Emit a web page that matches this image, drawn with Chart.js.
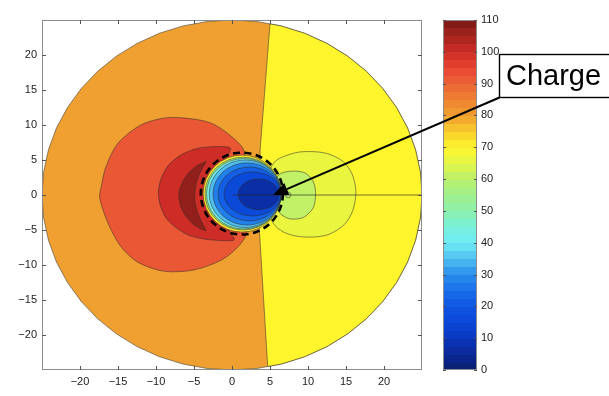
<!DOCTYPE html>
<html lang="en">
<head>
    <meta charset="utf-8" />
    <title>Contour - Charge</title>
    <script src="https://cdn.jsdelivr.net/npm/chart.js@4/dist/chart.umd.min.js"></script>
    <style>
      html, body { margin: 0; padding: 0; background: #fff; }
      #wrap { position: relative; width: 609px; height: 396px; }
    </style>
</head>
<body>
<div id="wrap"><canvas id="contour" width="609" height="396"></canvas></div>

<script>
    // --- axes ---
    const xTicks = [-20, -15, -10, -5, 0, 5, 10, 15, 20];
    const yTicks = [-20, -15, -10, -5, 0, 5, 10, 15, 20];
    const cbTicks = [0, 10, 20, 30, 40, 50, 60, 70, 80, 90, 100, 110];

    // --- colour map of the colour bar (value -> colour) ---
    const cmapLevels = [0, 5, 10, 15, 20, 25, 30, 35, 40, 45, 50, 55, 60, 65, 70, 75, 80, 85, 90, 95, 100, 105, 110];
    const cmapColors = ["#0a1e6e", "#0a2896", "#0a37be", "#0a46d7", "#0f55e1", "#196eeb", "#288ceb", "#50bef0",
                        "#6eebf5", "#78f0dc", "#8cf0aa", "#a0f08c", "#b9f06e", "#e1f546", "#fff52d", "#f8cd2d",
                        "#f0a030", "#f08232", "#eb6437", "#e84332", "#cd2d26", "#a5231e", "#781914"];

    // --- filled contour regions (outline in plot units, level = value) ---
    const diskLevel = 80;
    const disk = [[25,0],[24.79,3.26],[24.15,6.47],[23.1,9.57],[21.65,12.5],[19.83,15.22],[17.68,17.68],
                  [15.22,19.83],[12.5,21.65],[9.57,23.1],[6.47,24.15],[3.26,24.79],[0,25],
                  [-3.26,24.79],[-6.47,24.15],[-9.57,23.1],[-12.5,21.65],[-15.22,19.83],[-17.68,17.68],
                  [-19.83,15.22],[-21.65,12.5],[-23.1,9.57],[-24.15,6.47],[-24.79,3.26],[-25,0],
                  [-24.79,-3.26],[-24.15,-6.47],[-23.1,-9.57],[-21.65,-12.5],[-19.83,-15.22],[-17.68,-17.68],
                  [-15.22,-19.83],[-12.5,-21.65],[-9.57,-23.1],[-6.47,-24.15],[-3.26,-24.79],[0,-25],
                  [3.26,-24.79],[6.47,-24.15],[9.57,-23.1],[12.5,-21.65],[15.22,-19.83],[17.68,-17.68],
                  [19.83,-15.22],[21.65,-12.5],[23.1,-9.57],[24.15,-6.47],[24.79,-3.26],[25,0]];

    const rightLevel = 70;
    const rightHalf = [[5,24.44],[6.47,24.15],[9.57,23.1],[12.5,21.65],[15.22,19.83],[17.68,17.68],[19.83,15.22],
                       [21.65,12.5],[23.1,9.57],[24.15,6.47],[24.79,3.26],[25,0],[24.79,-3.26],[24.15,-6.47],
                       [23.1,-9.57],[21.65,-12.5],[19.83,-15.22],[17.68,-17.68],[15.22,-19.83],[12.5,-21.65],
                       [9.57,-23.1],[6.47,-24.15],[4.7,-24.5],[3.6,-5],[3.7,6.4],[5,24.44]];

    const lobeLevel = 66.5;
    const lobe = [[4,0],[5.5,4.6],[8.2,6.0],[10.5,6.2],[12.6,5.9],[14.6,4.8],[15.8,3.0],[16.3,0.5],[15.9,-2.2],
                  [14.8,-4.2],[12.8,-5.6],[10.8,-6.0],[8.6,-5.9],[6.8,-5.3],[5.4,-4],[4,0]];

    const lobeInnerLevel = 61;
    const lobeInner = [[5,0],[6.2,2.9],[7.8,3.4],[9.5,3.2],[10.6,2.1],[11,0.4],[10.7,-1.8],[9.4,-3.2],
                       [7.6,-3.4],[6.3,-2.6],[5,0]];

    const redLevel = 92;
    const red = [[1.5,0],[1.9,-5.4],[0.8,-7.4],[-1.4,-9.3],[-5,-10.7],[-8.9,-10.9],[-12.4,-9.6],[-14.6,-7.4],
                 [-16.2,-4.3],[-17.4,-0.5],[-17.2,1.2],[-16.6,4],[-15,7.4],[-12,10],[-8.9,11],[-6.3,11],
                 [-2.8,10.3],[0,8.3],[1.6,6.2],[1.5,0]];

    const darkRedLevel = 100;
    const darkRed = [[0,0],[-0.5,-4.8],[0.3,-6.4],[-1.5,-6.5],[-3.6,-6.3],[-5.6,-5.8],[-7.2,-4.8],[-8.6,-3.4],
                     [-9.4,-1.6],[-9.7,0.4],[-9.3,2.4],[-8.4,4.2],[-6.9,5.6],[-4.8,6.6],[-2.6,6.9],[-0.2,6.7],
                     [-1.0,4.5],[0,0]];

    const crescentLevel = 107;
    const crescent = [[-3.4,4.8],[-4.6,4.2],[-5.6,3.3],[-6.4,2.1],[-6.9,0.8],[-7,-0.4],[-6.7,-1.8],[-6.1,-3.0],
                      [-5.2,-4.1],[-4.2,-4.8],[-3.4,-5.1],[-4.1,-3.6],[-4.6,-2.3],[-4.9,-0.9],[-4.9,0.4],
                      [-4.7,1.7],[-4.3,3.0],[-3.4,4.8]];

    // --- core of the charge: nested closed contours [cx, cy, rx, ry] ---
    const coreLevels = [71, 55, 43, 35, 28, 22, 16, 7];
    const coreShapes = [[1.33,0.2,5.13,5.5],[1.45,0.2,5.0,5.2],[1.55,0.18,4.9,5.03],[1.73,0.18,4.73,4.83],
                        [1.98,0.15,4.48,4.45],[2.3,0.15,4.15,3.85],[2.7,0.15,3.75,3.15],[3.5,0.1,2.7,2.2]];
    const smallLoop = [7.4, 0, 0.35, 0.4];

    // dashed ring around the charge, mesh cut, arrow tip
    const chargeRing = [1.3, 0.2, 5.4, 5.85];
    const cutLine = [[0.1, 0], [25, 0]];
    const chargeTip = [5.4, 0];
    const chargeLabel = "Charge";

    // --- helpers ---
    function hexToRgb(h) {
        return [parseInt(h.slice(1,3),16), parseInt(h.slice(3,5),16), parseInt(h.slice(5,7),16)];
    }
    function levelColor(v) {
        let i = 0;
        while (i < cmapLevels.length - 2 && v > cmapLevels[i + 1]) i++;
        const t = Math.max(0, Math.min(1, (v - cmapLevels[i]) / (cmapLevels[i + 1] - cmapLevels[i])));
        const a = hexToRgb(cmapColors[i]), b = hexToRgb(cmapColors[i + 1]);
        return "rgb(" + a.map((c, k) => Math.round(c + (b[k] - c) * t)).join(",") + ")";
    }
    const edgeColor = "rgba(45,45,45,0.75)";
    const axisFont = { family: "'Liberation Sans', Arial, Helvetica, sans-serif", size: 11 };
    const fmt = v => (v < 0 ? "\u2212" + Math.abs(v) : String(v));

    let order = 0;
    function region(points, level, tension) {
        order--;
        return {
            data: points.map(p => ({ x: p[0], y: p[1] })),
            showLine: true,
            fill: "shape",
            backgroundColor: levelColor(level),
            borderColor: edgeColor,
            borderWidth: 0.7,
            pointRadius: 0,
            tension: tension,
            order: order
        };
    }

    // --- plugin: core contours, ring, frame, colour bar, label ---
    const contourExtras = {
        id: "contourExtras",
        afterDatasetsDraw(chart) {
            const { ctx, chartArea: a, scales: { x, y } } = chart;
            const ellipse = e => {
                const px = x.getPixelForValue(e[0]), py = y.getPixelForValue(e[1]);
                const rx = Math.abs(x.getPixelForValue(e[0] + e[2]) - px);
                const ry = Math.abs(y.getPixelForValue(e[1] + e[3]) - py);
                ctx.beginPath();
                ctx.ellipse(px, py, rx, ry, 0, 0, Math.PI * 2);
            };
            ctx.save();
            ctx.beginPath();
            ctx.rect(a.left, a.top, a.width, a.height);
            ctx.clip();

            ctx.lineWidth = 0.7;
            ctx.strokeStyle = edgeColor;
            coreLevels.forEach((lv, i) => {
                ellipse(coreShapes[i]);
                ctx.fillStyle = levelColor(lv);
                ctx.fill();
                ctx.stroke();
            });
            ellipse(smallLoop);
            ctx.fillStyle = levelColor(lobeInnerLevel);
            ctx.fill();
            ctx.stroke();

            // mesh cut
            ctx.beginPath();
            ctx.moveTo(x.getPixelForValue(cutLine[0][0]), y.getPixelForValue(cutLine[0][1]));
            ctx.lineTo(x.getPixelForValue(cutLine[1][0]), y.getPixelForValue(cutLine[1][1]));
            ctx.strokeStyle = "rgba(40,40,40,0.8)";
            ctx.lineWidth = 0.8;
            ctx.stroke();

            // dashed ring
            ellipse(chargeRing);
            ctx.setLineDash([7, 4.5]);
            ctx.lineWidth = 2.6;
            ctx.strokeStyle = "#000";
            ctx.stroke();
            ctx.restore();
        },
        afterDraw(chart) {
            const { ctx, chartArea: a, scales: { x, y, cb } } = chart;
            ctx.save();

            // frame + inward ticks
            ctx.strokeStyle = "#8c8c8c";
            ctx.lineWidth = 1;
            ctx.strokeRect(a.left + 0.5, a.top + 0.5, a.width - 1, a.height - 1);
            ctx.strokeStyle = "#555";
            ctx.beginPath();
            xTicks.forEach(v => {
                const px = Math.round(x.getPixelForValue(v)) + 0.5;
                ctx.moveTo(px, a.bottom); ctx.lineTo(px, a.bottom - 4);
                ctx.moveTo(px, a.top); ctx.lineTo(px, a.top + 4);
            });
            yTicks.forEach(v => {
                const py = Math.round(y.getPixelForValue(v)) + 0.5;
                ctx.moveTo(a.left, py); ctx.lineTo(a.left + 4, py);
                ctx.moveTo(a.right, py); ctx.lineTo(a.right - 4, py);
            });
            ctx.stroke();

            // colour bar
            const barL = cb.left + 21, barW = 34;
            for (let v = 0; v < 110; v += 2.5) {
                const p0 = cb.getPixelForValue(v), p1 = cb.getPixelForValue(v + 2.5);
                ctx.fillStyle = levelColor(v + 1.25);
                ctx.fillRect(barL, Math.floor(p1), barW, Math.ceil(p0) - Math.floor(p1));
            }
            const top = cb.getPixelForValue(110), bot = cb.getPixelForValue(0);
            ctx.strokeStyle = "#8c8c8c";
            ctx.strokeRect(barL + 0.5, top + 0.5, barW - 1, bot - top - 1);
            ctx.strokeStyle = "#555";
            ctx.beginPath();
            cbTicks.forEach(v => {
                const py = Math.round(cb.getPixelForValue(v)) + 0.5;
                ctx.moveTo(barL, py); ctx.lineTo(barL + 3, py);
                ctx.moveTo(barL + barW, py); ctx.lineTo(barL + barW - 3, py);
            });
            ctx.stroke();

            // label box + arrow to the charge
            const bx = 499.5, by = 54.5, bw = 130, bh = 43;
            ctx.fillStyle = "#fff";
            ctx.fillRect(bx, by, bw, bh);
            ctx.strokeStyle = "#000";
            ctx.lineWidth = 1.4;
            ctx.strokeRect(bx, by, bw, bh);
            ctx.fillStyle = "#000";
            ctx.font = "29px 'Liberation Sans', Arial, Helvetica, sans-serif";
            ctx.textBaseline = "alphabetic";
            ctx.fillText(chargeLabel, 506, 85);

            const tx = x.getPixelForValue(chargeTip[0]), ty = y.getPixelForValue(chargeTip[1]);
            const sx = bx, sy = by + bh;
            const ang = Math.atan2(ty - sy, tx - sx);
            const hl = 15, hw = 6.5;
            const baseX = tx - hl * Math.cos(ang), baseY = ty - hl * Math.sin(ang);
            ctx.lineWidth = 2;
            ctx.beginPath();
            ctx.moveTo(sx, sy);
            ctx.lineTo(baseX, baseY);
            ctx.stroke();
            ctx.beginPath();
            ctx.moveTo(tx, ty);
            ctx.lineTo(baseX + hw * Math.sin(ang), baseY - hw * Math.cos(ang));
            ctx.lineTo(baseX - hw * Math.sin(ang), baseY + hw * Math.cos(ang));
            ctx.closePath();
            ctx.fill();
            ctx.restore();
        }
    };

    // --- chart ---
    const datasets = [
        region(disk, diskLevel, 0),
        region(rightHalf, rightLevel, 0),
        region(lobe, lobeLevel, 0.3),
        region(lobeInner, lobeInnerLevel, 0.3),
        region(red, redLevel, 0.3),
        region(darkRed, darkRedLevel, 0.25),
        region(crescent, crescentLevel, 0)
    ];

    const ctx = document.getElementById("contour").getContext("2d");
    new Chart(ctx, {
        type: "scatter",
        data: { datasets: datasets },
        options: {
            responsive: false,
            animation: false,
            devicePixelRatio: 1,
            layout: { padding: { top: 20, left: 0, right: 0, bottom: 0 } },
            plugins: { legend: { display: false }, tooltip: { enabled: false } },
            scales: {
                x: {
                    type: "linear", position: "bottom", min: -25, max: 25,
                    grid: { display: false, drawTicks: false }, border: { display: false },
                    ticks: { padding: 5, font: axisFont, color: "#222", callback: fmt },
                    afterBuildTicks: s => { s.ticks = xTicks.map(v => ({ value: v })); },
                    afterFit: s => { s.height = 26; }
                },
                y: {
                    type: "linear", position: "left", min: -25, max: 25,
                    grid: { display: false, drawTicks: false }, border: { display: false },
                    ticks: { padding: 5, font: axisFont, color: "#222", callback: fmt },
                    afterBuildTicks: s => { s.ticks = yTicks.map(v => ({ value: v })); },
                    afterFit: s => { s.width = 42; }
                },
                cb: {
                    type: "linear", position: "right", min: 0, max: 110,
                    grid: { display: false, drawTicks: true, tickLength: 54 }, border: { display: false },
                    ticks: { padding: 5, font: axisFont, color: "#222" },
                    afterBuildTicks: s => { s.ticks = cbTicks.map(v => ({ value: v })); },
                    afterFit: s => { s.width = 187; }
                }
            }
        },
        plugins: [contourExtras]
    });
</script>
</body>
</html>
